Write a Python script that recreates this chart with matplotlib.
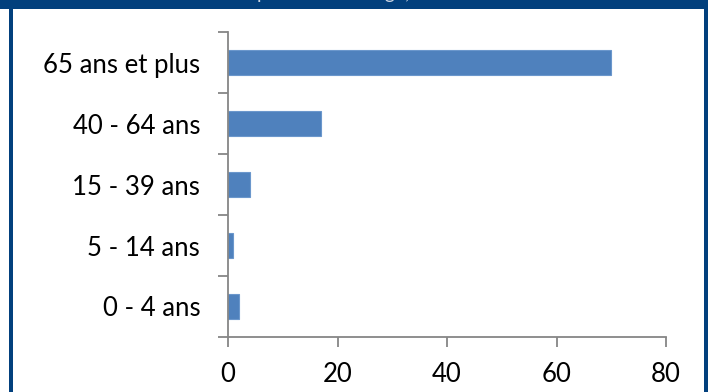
import matplotlib.pyplot as plt
from matplotlib.patches import Rectangle

# Age groups, bottom to top
ages = ["0 - 4 ans", "5 - 14 ans", "15 - 39 ans", "40 - 64 ans", "65 ans et plus"]
values = [2, 1, 4, 17, 70]
x_ticks = [0, 20, 40, 60, 80]

plt.rcParams['font.family'] = ['Lato', 'DejaVu Sans']

W, H = 708, 392
fig = plt.figure(figsize=(W / 100, H / 100), dpi=100)
fig.patch.set_facecolor('white')

navy = '#02407d'
# frame: top band and side bars
fig.patches.append(Rectangle((0, 1 - 9 / H), 1, 9 / H, transform=fig.transFigure,
                             facecolor=navy, edgecolor='none', zorder=0))
fig.patches.append(Rectangle((9 / W, 0), 3.5 / W, 1, transform=fig.transFigure,
                             facecolor=navy, edgecolor='none', zorder=0))
fig.patches.append(Rectangle((704 / W, 0), 4 / W, 1, transform=fig.transFigure,
                             facecolor=navy, edgecolor='none', zorder=0))
fig.text(0.515, 1 + 6 / H, "Décès par tranche d'âge, toutes causes", color='#c8d3e2',
         ha='center', va='center', fontsize=14)

ax = fig.add_axes([228 / W, 1 - 337 / H, (666 - 228) / W, (337 - 32) / H])
pos = list(range(len(ages)))
ax.barh(pos, values, height=0.4, color='#4f81bd', edgecolor='#6b97cc', linewidth=0.8)

ax.set_xlim(0, 80)
ax.set_ylim(-0.5, len(ages) - 0.5)
ax.set_xticks(x_ticks)
ax.set_xticklabels([str(t) for t in x_ticks])
ax.set_yticks(pos)
ax.set_yticklabels(ages)
ax.set_yticks([p - 0.5 for p in pos] + [len(ages) - 0.5], minor=True)

for side in ('top', 'right'):
    ax.spines[side].set_visible(False)
for side in ('left', 'bottom'):
    ax.spines[side].set_color('#868686')
    ax.spines[side].set_linewidth(1.3)

ax.tick_params(axis='y', which='major', length=0, pad=20, labelsize=18.5)
ax.tick_params(axis='y', which='minor', length=7, width=1.3, color='#868686')
ax.tick_params(axis='x', length=7, width=1.3, color='#868686', pad=11, labelsize=18.5)

fig.savefig('out.png', dpi=100, facecolor='white')
